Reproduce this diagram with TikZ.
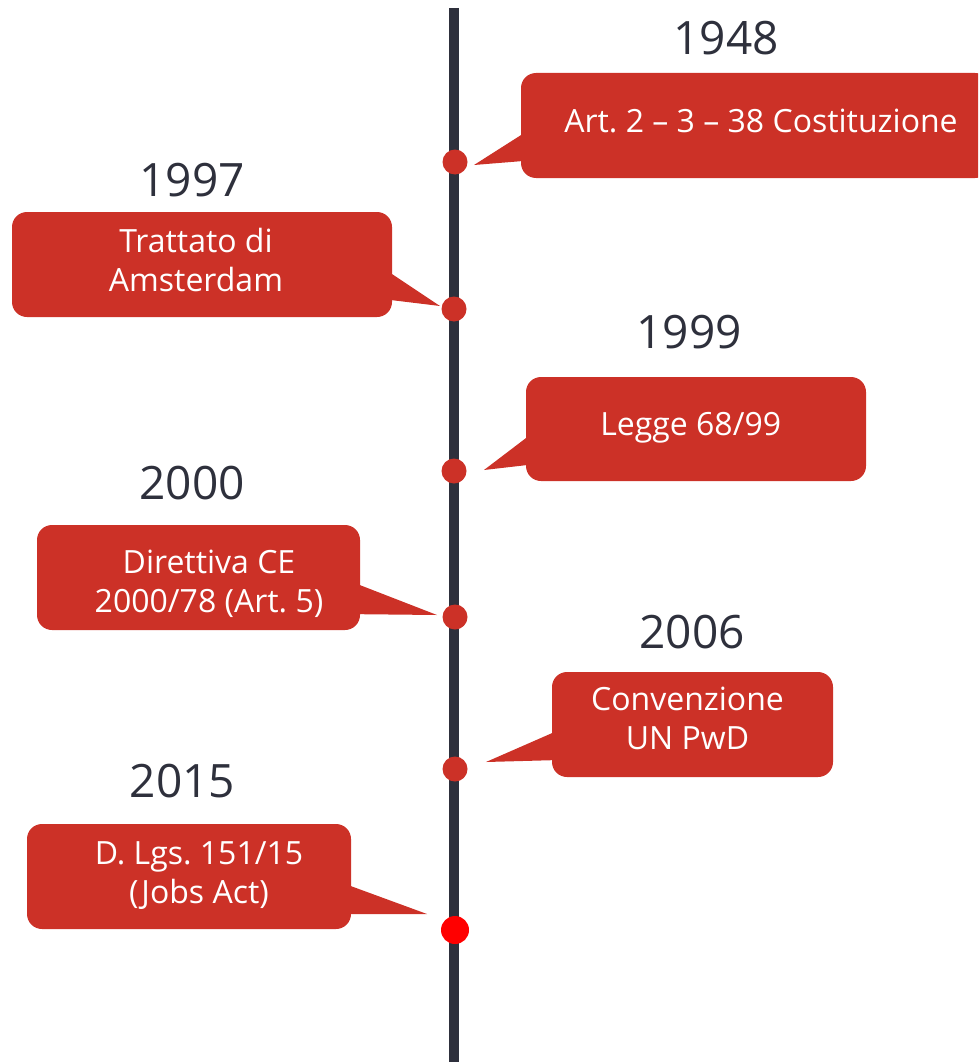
\documentclass[tikz,border=0pt]{standalone}
\usepackage{fontspec}
\setmainfont{Open Sans}
\usetikzlibrary{calc}
\definecolor{boxred}{RGB}{204,49,39}
\definecolor{axisgray}{RGB}{46,48,60}
\definecolor{lastred}{RGB}{255,0,0}
\frenchspacing

\begin{document}
\begin{tikzpicture}[x=1pt,y=1pt,yscale=-1,
  callout/.style={fill=boxred,rounded corners=15pt,inner sep=0pt},
  calltext/.style={text=white,align=center,inner sep=0pt,font=\fontsize{32}{38.5}\selectfont},
  yearlabel/.style={text=axisgray,inner sep=0pt,font=\fontsize{46}{54}\selectfont},
  dot/.style={circle,fill=boxred,minimum size=25pt,inner sep=0pt}]

\useasboundingbox (0,0) rectangle (978,1062);
\clip (0,0) rectangle (978,1062);

% time axis
\coordinate (top) at (454,8);
\coordinate (bottom) at (454,1075);
\draw [axisgray,line width=9.7pt] (top) -- (bottom);

% callout boxes
\node [callout,minimum width=469pt,minimum height=105pt] (b1) at (755.5,125.5) {};
\node [callout,minimum width=380pt,minimum height=105pt] (b2) at (202,264.5) {};
\node [callout,minimum width=340pt,minimum height=104pt] (b3) at (696,429) {};
\node [callout,minimum width=323pt,minimum height=105pt] (b4) at (198.5,577.5) {};
\node [callout,minimum width=281pt,minimum height=105pt] (b5) at (692.5,724.5) {};
\node [callout,minimum width=324pt,minimum height=105pt] (b6) at (189,876.5) {};

% pointer tips
\coordinate (p1) at (474,165);
\coordinate (p2) at (440,306);
\coordinate (p3) at (484,470);
\coordinate (p4) at (437,615);
\coordinate (p5) at (486,762);
\coordinate (p6) at (427,914);

\fill [boxred] ($(b1.south west)+(0,-43)$) -- (p1) -- ($(b1.south west)+(0,-17)$) -- cycle;
\fill [boxred] ($(b2.south east)+(0,-43)$) -- (p2) -- ($(b2.south east)+(0,-17)$) -- cycle;
\fill [boxred] ($(b3.south west)+(0,-43)$) -- (p3) -- ($(b3.south west)+(0,-16)$) -- cycle;
\fill [boxred] ($(b4.south east)+(0,-45)$) -- (p4) -- ($(b4.south east)+(0,-16)$) -- cycle;
\fill [boxred] ($(b5.south west)+(0,-44)$) -- (p5) -- ($(b5.south west)+(0,-17)$) -- cycle;
\fill [boxred] ($(b6.south east)+(0,-43)$) -- (p6) -- ($(b6.south east)+(0,-15)$) -- cycle;

% dots on the axis
\node [dot] (d1) at (455,162) {};
\node [dot] (d2) at (454,309) {};
\node [dot] (d3) at (454,471) {};
\node [dot] (d4) at (455,617) {};
\node [dot] (d5) at (455,769) {};
\node [dot,fill=lastred,minimum size=28pt] (d6) at (455,930) {};

% years
\node [yearlabel] (y1) at (726,38) {1948};
\node [yearlabel] (y2) at (192,180) {1997};
\node [yearlabel] (y3) at (689,332) {1999};
\node [yearlabel] (y4) at (192,483) {2000};
\node [yearlabel] (y5) at (692,632) {2006};
\node [yearlabel] (y6) at (182.5,781) {2015};

% texts
\node [calltext] (t1) at (761,120.5) {Art. 2 -- 3 -- 38 Costituzione};
\node [calltext] (t2) at (196,260) {Trattato di\\Amsterdam};
\node [calltext] (t3) at (690.7,427.5) {Legge 68/99};
\node [calltext] (t4) at (209,584) {Direttiva CE\\2000/78 (Art. 5)};
\node [calltext] (t5) at (687.5,718.5) {Convenzione\\UN PwD};
\node [calltext] (t6) at (199,875.5) {D. Lgs. 151/15\\(Jobs Act)};

\end{tikzpicture}
\end{document}
